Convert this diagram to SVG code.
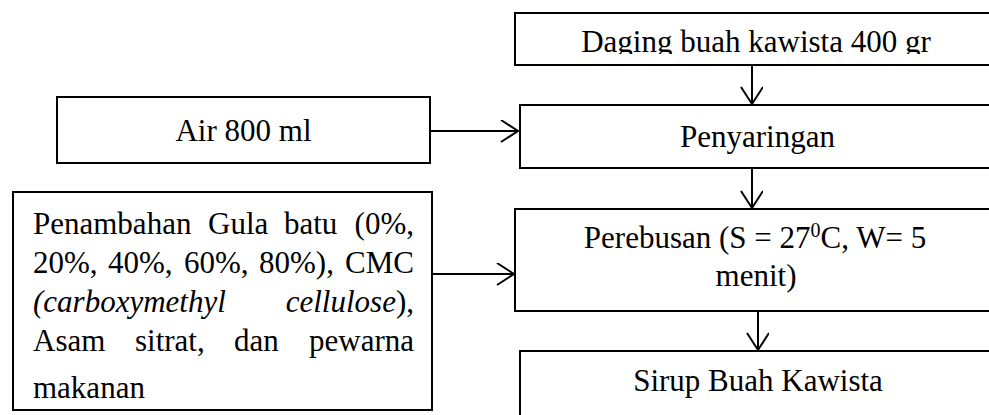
<svg xmlns="http://www.w3.org/2000/svg" width="989" height="415" viewBox="0 0 989 415">
  <style>
    .box { fill: #ffffff; stroke: #000000; stroke-width: 2; }
    .link { fill: none; stroke: #000000; stroke-width: 2; }
    text { font-family: "Liberation Serif", "Times New Roman", serif; font-size: 31px; fill: #000000; }
    .c { text-anchor: middle; }
    .e { text-anchor: end; }
    .i { font-style: italic; }
  </style>
  <defs>
    <marker id="arrow" markerUnits="userSpaceOnUse" markerWidth="24" markerHeight="26" refX="18" refY="11" orient="auto">
      <path d="M1,0 L18,11 L1,22" fill="none" stroke="#000000" stroke-width="2"/>
    </marker>
    <clipPath id="clipTop">
      <rect x="0" y="0" width="989" height="54"/>
    </clipPath>
  </defs>

  <rect width="989" height="415" fill="#ffffff"/>

  <g id="daging">
    <rect class="box" x="515" y="13" width="480" height="52"/>
    <text class="c" x="756" y="52" clip-path="url(#clipTop)">Daging buah kawista 400 gr</text>
  </g>

  <g id="air">
    <rect class="box" x="57" y="97" width="373" height="66"/>
    <text class="c" x="243.5" y="141">Air 800 ml</text>
  </g>

  <g id="penyaringan">
    <rect class="box" x="520" y="105" width="480" height="63"/>
    <text class="c" x="757.5" y="147">Penyaringan</text>
  </g>

  <!-- justified paragraph: first word at the left margin, last word at the right -->
  <g id="bahan">
    <rect class="box" x="13" y="192" width="419" height="218"/>
    <text x="33" y="234">Penambahan</text>
    <text x="208" y="234">Gula</text>
    <text x="284" y="234">batu</text>
    <text class="e" x="414" y="234">(0%,</text>
    <text x="33" y="273">20%,</text>
    <text x="108" y="273">40%,</text>
    <text x="184" y="273">60%,</text>
    <text x="259" y="273">80%),</text>
    <text class="e" x="414" y="273">CMC</text>
    <text x="33" y="312"><tspan class="i">(carboxymethyl</tspan></text>
    <text class="e" x="414" y="312"><tspan class="i">cellulose</tspan>),</text>
    <text x="33" y="351">Asam</text>
    <text x="135" y="351">sitrat,</text>
    <text x="234" y="351">dan</text>
    <text class="e" x="414" y="351">pewarna</text>
    <text x="33" y="398">makanan</text>
  </g>

  <g id="perebusan">
    <rect class="box" x="515" y="209" width="480" height="102"/>
    <text class="c" x="755" y="248">Perebusan (S = 27<tspan dy="-11" font-size="20">0</tspan><tspan dy="11">C, W= 5</tspan></text>
    <text class="c" x="756" y="286">menit)</text>
  </g>

  <g id="sirup">
    <rect class="box" x="520" y="351" width="480" height="80"/>
    <text class="c" x="758" y="391">Sirup Buah Kawista</text>
  </g>

  <g id="connectors">
    <line class="link" x1="752" y1="65" x2="752" y2="104" marker-end="url(#arrow)"/>
    <line class="link" x1="430" y1="131" x2="518" y2="131" marker-end="url(#arrow)"/>
    <line class="link" x1="752" y1="168" x2="752" y2="208" marker-end="url(#arrow)"/>
    <line class="link" x1="432" y1="274" x2="514" y2="274" marker-end="url(#arrow)"/>
    <line class="link" x1="758" y1="311" x2="758" y2="350" marker-end="url(#arrow)"/>
  </g>
</svg>
